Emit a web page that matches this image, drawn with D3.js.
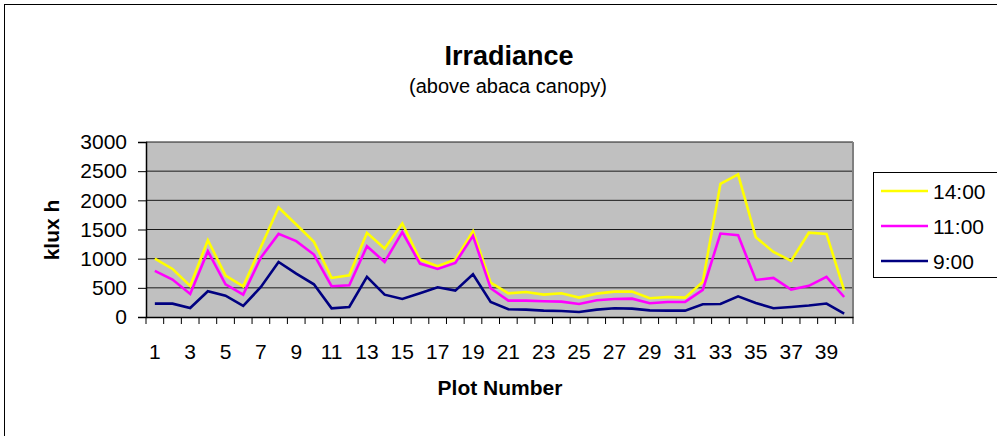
<!DOCTYPE html>
<html>
<head>
<meta charset="utf-8">
<script src="https://cdn.jsdelivr.net/npm/d3@7"></script>
<style>
body { margin: 0; background: #fff; }
text { font-family: "Liberation Sans", Arial, sans-serif; }
</style>
</head>
<body>
<div id="chart"></div>
<script>
// plot numbers 1..40
var plots = ["1","2","3","4","5","6","7","8","9","10","11","12","13","14","15","16","17","18","19","20",
"21","22","23","24","25","26","27","28","29","30","31","32","33","34","35","36","37","38","39","40"];

var h14 = [1000, 824, 532, 1317, 710, 527, 1200, 1877, 1585, 1288, 670, 715, 1442, 1173, 1603, 985, 870, 985, 1471, 590,
406, 429, 384, 406, 332, 401, 435, 435, 321, 343, 332, 601, 2284, 2444, 1368, 1116, 962, 1445, 1425, 458];
var h11 = [790, 641, 395, 1128, 561, 383, 1019, 1425, 1300, 1070, 527, 544, 1213, 944, 1454, 916, 824, 927, 1391, 492,
280, 280, 269, 263, 223, 286, 309, 315, 235, 258, 258, 464, 1431, 1402, 635, 670, 469, 535, 687, 343];
var h9 = [229, 229, 155, 441, 366, 189, 515, 944, 744, 561, 149, 172, 687, 383, 309, 406, 509, 452, 733, 258,
132, 126, 109, 103, 86, 126, 149, 143, 114, 109, 109, 218, 223, 355, 240, 149, 172, 196, 230, 58];

var yTicks = [0, 500, 1000, 1500, 2000, 2500, 3000];
var seriesNames = ["14:00", "11:00", "9:00"];
var seriesColors = ["#ffff00", "#ff00ff", "#000080"];
var series = [h14, h11, h9];

var W = 997, H = 436;
var pLeft = 146, pRight = 853, pTop = 142, pBottom = 317;

var svg = d3.select("#chart").append("svg")
.attr("width", W)
.attr("height", H);

// outer frame
svg.append("rect")
.attr("x", 4.5).attr("y", 4.5)
.attr("width", W + 10).attr("height", H + 10)
.attr("fill", "#fff").attr("stroke", "#000").attr("stroke-width", 1);

var x = d3.scaleBand().domain(plots).range([pLeft, pRight]);
var y = d3.scaleLinear().domain([0, 3000]).range([pBottom, pTop]);

// plot area
svg.append("rect")
.attr("x", pLeft).attr("y", pTop)
.attr("width", pRight - pLeft).attr("height", pBottom - pTop)
.attr("fill", "#c0c0c0");

// gridlines
svg.append("g").selectAll("line").data(yTicks.slice(1)).enter()
.append("line")
.attr("x1", pLeft).attr("x2", pRight)
.attr("y1", function (d) { return y(d); })
.attr("y2", function (d) { return y(d); })
.attr("stroke", "#1a1a1a").attr("stroke-width", 1);

// right border of plot area
svg.append("line")
.attr("x1", pRight).attr("x2", pRight).attr("y1", pTop).attr("y2", pBottom)
.attr("stroke", "#808080").attr("stroke-width", 2);

// Y axis
var yAxis = svg.append("g")
.attr("transform", "translate(" + pLeft + ",0)")
.call(d3.axisLeft(y).tickValues(yTicks).tickFormat(d3.format("d")).tickSize(8).tickPadding(11));
yAxis.select(".domain").attr("stroke", "#000").attr("stroke-width", 1.5);
yAxis.selectAll(".tick line").attr("stroke", "#000");
yAxis.selectAll("text").style("font-size", "21px").attr("fill", "#000");

// X axis, ticks at band edges
var xAxis = svg.append("g")
.attr("transform", "translate(0," + pBottom + ")")
.call(d3.axisBottom(x).tickSize(0).tickPadding(27)
.tickFormat(function (d, i) { return i % 2 == 0 ? d : ""; }));
xAxis.select(".domain").attr("stroke", "#000").attr("stroke-width", 1.5);
xAxis.selectAll("text").style("font-size", "21px").attr("fill", "#000");

svg.append("g").selectAll("line").data(d3.range(plots.length + 1)).enter()
.append("line")
.attr("x1", function (i) { return pLeft + i * x.bandwidth(); })
.attr("x2", function (i) { return pLeft + i * x.bandwidth(); })
.attr("y1", pBottom).attr("y2", pBottom + 7)
.attr("stroke", "#000");

// lines
var line = d3.line()
.x(function (d, i) { return x(plots[i]) + x.bandwidth() / 2; })
.y(function (d) { return y(d); });

series.forEach(function (s, k) {
  svg.append("path")
  .datum(s)
  .attr("d", line)
  .attr("fill", "none")
  .attr("stroke", seriesColors[k])
  .attr("stroke-width", 2.6)
  .attr("stroke-linejoin", "miter");
});

// titles
svg.append("text")
.attr("x", 509).attr("y", 65)
.attr("text-anchor", "middle")
.style("font-size", "27px").style("font-weight", "bold")
.text("Irradiance");

svg.append("text")
.attr("x", 508).attr("y", 93)
.attr("text-anchor", "middle")
.style("font-size", "20px")
.text("(above abaca canopy)");

svg.append("text")
.attr("x", 500).attr("y", 395)
.attr("text-anchor", "middle")
.style("font-size", "21px").style("font-weight", "bold")
.text("Plot Number");

svg.append("text")
.attr("transform", "translate(59,230)rotate(-90)")
.attr("text-anchor", "middle")
.style("font-size", "21px").style("font-weight", "bold")
.text("klux h");

// legend
var legend = svg.append("g");
legend.append("rect")
.attr("x", 873.5).attr("y", 172.5)
.attr("width", 140).attr("height", 105)
.attr("fill", "#fff").attr("stroke", "#000").attr("stroke-width", 1);

var items = legend.selectAll("g.item").data(seriesNames).enter()
.append("g")
.attr("transform", function (d, i) { return "translate(0," + (191 + i * 35) + ")"; });
items.append("line")
.attr("x1", 881).attr("x2", 928)
.attr("stroke", function (d, i) { return seriesColors[i]; })
.attr("stroke-width", 2.6);
items.append("text")
.attr("x", 933).attr("dy", "0.36em")
.style("font-size", "21px")
.text(function (d) { return d; });
</script>
</body>
</html>
